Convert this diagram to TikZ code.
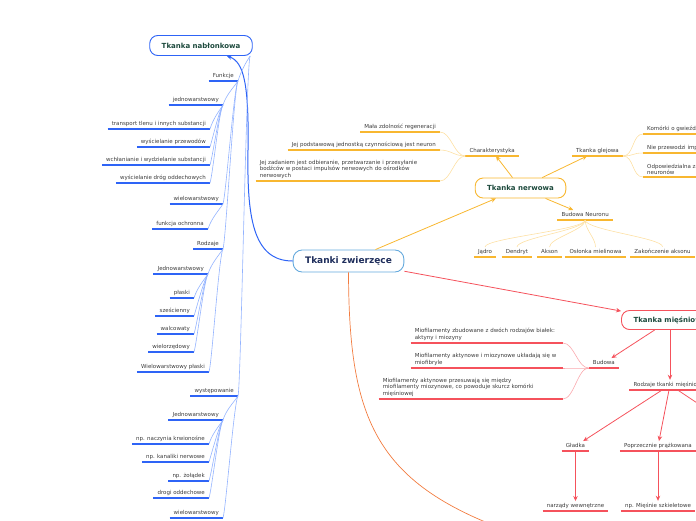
\documentclass[tikz,border=0pt]{standalone}
\usepackage{fontspec}
\setmainfont{DejaVu Sans}
\usetikzlibrary{arrows.meta}

\definecolor{niebD}{HTML}{2E64F6}
\definecolor{niebJ}{HTML}{93B3FF}
\definecolor{zoltD}{HTML}{F8B730}
\definecolor{zoltJ}{HTML}{FDE0A4}
\definecolor{czerD}{HTML}{F5525C}
\definecolor{czerJ}{HTML}{FAA8AD}
\definecolor{pomar}{HTML}{F27C40}
\definecolor{srodek}{HTML}{64A9DD}
\definecolor{tytul}{HTML}{1D4A3D}
\definecolor{granat}{HTML}{1F2E5C}
\definecolor{napis}{HTML}{3B3B3B}

\tikzset{
  temat/.style={font=\fontsize{5.5}{6.7}\selectfont, text=napis, inner xsep=4pt, inner ysep=2pt,
    anchor=south east,
    append after command={(\tikzlastnode.south west) edge[draw=#1, line width=1.6pt] (\tikzlastnode.south east)}},
  jedna/.style={temat=#1, text depth=1.4pt},
  glowny/.style={draw=#1, fill=white, line width=0.9pt, rounded corners=8pt,
    font=\fontsize{7}{8}\selectfont\bfseries, text=tytul, inner xsep=12pt, minimum height=20pt},
  strz/.style={draw=#1, line width=0.8pt, -{Stealth[length=5pt,width=4.5pt]}},
  pion/.style={draw=#1, line width=0.6pt, to path={.. controls +(-4,6) and +(3,-10) .. (\tikztotarget)}},
  lewo/.style={draw=#1, line width=0.6pt, to path={.. controls +(-11,0) and +(11,0) .. (\tikztotarget)}},
  prawo/.style={draw=#1, line width=0.6pt, to path={.. controls +(11,0) and +(-11,0) .. (\tikztotarget)}},
  wachlarz/.style={draw=#1, line width=0.6pt, to path={.. controls +(0,10) and +(0,-9) .. (\tikztotarget)}},
}

\begin{document}
\begin{tikzpicture}[x=1pt, y=-1pt]
\useasboundingbox (0,0) rectangle (696,520);

% srodek mapy
\node[draw=srodek, fill=white, line width=0.9pt, rounded corners=9pt, font=\fontsize{9}{10}\selectfont\bfseries,
  text=granat, inner xsep=12pt, minimum height=22pt] (zw) at (348.5,261) {Tkanki zwierzęce};

% tkanka nablonkowa
\node[glowny=niebD] (nabl) at (201,45.5) {Tkanka nabłonkowa};
\node[jedna=niebD] (funk) at (238,81) {Funkcje};
\node[jedna=niebD] (jedn1) at (223,105) {jednowarstwowy};
\node[jedna=niebD] (f1) at (210,129) {transport tlenu i innych substancji};
\node[jedna=niebD] (f2) at (210,147) {wyścielanie przewodów};
\node[jedna=niebD] (f3) at (210,165) {wchłanianie i wydzielanie substancji};
\node[jedna=niebD] (f4) at (210,183) {wyścielanie dróg oddechowych};
\node[jedna=niebD] (wiel1) at (223,204) {wielowarstwowy};
\node[jedna=niebD] (fochr) at (208,229) {funkcja ochronna};
\node[jedna=niebD] (rodz) at (223,249) {Rodzaje};
\node[jedna=niebD] (jedn2) at (208,274) {Jednowarstwowy};
\node[jedna=niebD] (plas) at (194,298) {płaski};
\node[jedna=niebD] (szes) at (194,316) {sześcienny};
\node[jedna=niebD] (walc) at (194,334) {walcowaty};
\node[jedna=niebD] (wrz) at (194,352) {wielorzędowy};
\node[jedna=niebD] (wpl) at (209,372) {Wielowarstwowy płaski};
\node[jedna=niebD] (wyst) at (238,396) {występowanie};
\node[jedna=niebD] (jedn3) at (223,420) {Jednowarstwowy};
\node[jedna=niebD] (w1) at (209,444) {np. naczynia krwionośne};
\node[jedna=niebD] (w2) at (209,462) {np. kanaliki nerwowe};
\node[jedna=niebD] (w3) at (209,481) {np. żołądek};
\node[jedna=niebD] (w4) at (209,498) {drogi oddechowe};
\node[jedna=niebD] (wiel3) at (223,518) {wielowarstwowy};

\draw[strz=niebD, line width=1pt] (zw.west) .. controls (252,261) and (247,215) .. (248,150)
  .. controls (249,85) and (244,62) .. (nabl.-22);
\draw[pion=niebJ] (nabl.-12) to (funk.south east);
\draw[pion=niebJ] (nabl.-12) to (wyst.south east);
\draw[pion=niebJ] (funk.south east) to (jedn1.south east);
\draw[pion=niebJ] (funk.south east) to (wiel1.south east);
\draw[pion=niebJ] (funk.south east) to (rodz.south east);
\draw[pion=niebJ] (jedn1.south east) to (f1.south east);
\draw[pion=niebJ] (jedn1.south east) to (f2.south east);
\draw[pion=niebJ] (jedn1.south east) to (f3.south east);
\draw[pion=niebJ] (jedn1.south east) to (f4.south east);
\draw[pion=niebJ] (wiel1.south east) to (fochr.south east);
\draw[pion=niebJ] (rodz.south east) to (jedn2.south east);
\draw[pion=niebJ] (rodz.south east) to (wpl.south east);
\draw[pion=niebJ] (jedn2.south east) to (plas.south east);
\draw[pion=niebJ] (jedn2.south east) to (szes.south east);
\draw[pion=niebJ] (jedn2.south east) to (walc.south east);
\draw[pion=niebJ] (jedn2.south east) to (wrz.south east);
\draw[pion=niebJ] (wyst.south east) to (jedn3.south east);
\draw[pion=niebJ] (wyst.south east) to (wiel3.south east);
\draw[pion=niebJ] (jedn3.south east) to (w1.south east);
\draw[pion=niebJ] (jedn3.south east) to (w2.south east);
\draw[pion=niebJ] (jedn3.south east) to (w3.south east);
\draw[pion=niebJ] (jedn3.south east) to (w4.south east);

% tkanka nerwowa
\node[glowny=zoltD] (nerw) at (520.5,188) {Tkanka nerwowa};
\node[jedna=zoltD] (cech) at (519,156) {Charakterystyka};
\node[jedna=zoltD] (n1) at (440,132) {Mała zdolność regeneracji};
\node[jedna=zoltD] (n2) at (440,150) {Jej podstawową jednostką czynnościową jest neuron};
\node[temat=zoltD, text width=176pt, align=left] (n3) at (440,181)
  {Jej zadaniem jest odbieranie, przetwarzanie i przesyłanie\\bodźców w postaci impulsów nerwowych do ośrodków\\nerwowych};
\node[jedna=zoltD] (glej) at (623,156) {Tkanka glejowa};
\node[jedna=zoltD, anchor=south west] (g1) at (643,134) {Komórki o gwieździstym kształcie};
\node[jedna=zoltD, anchor=south west] (g2) at (643,153) {Nie przewodzi impulsów nerwowych};
\node[temat=zoltD, anchor=south west, align=left] (g3) at (643,177) {Odpowiedzialna za odżywianie\\neuronów};
\node[jedna=zoltD] (budn) at (613,220) {Budowa Neuronu};
\node[jedna=zoltD, anchor=south] (jadro) at (485,257) {Jądro};
\node[jedna=zoltD, anchor=south] (dendr) at (517,257) {Dendryt};
\node[jedna=zoltD, anchor=south] (akson) at (549.5,257) {Akson};
\node[jedna=zoltD, anchor=south] (oslon) at (595.5,257) {Osłonka mielinowa};
\node[jedna=zoltD, anchor=south] (zakon) at (662.5,257) {Zakończenie aksonu};

\draw[strz=zoltD] (zw) -- (nerw);
\draw[strz=zoltD] (nerw) -- (cech);
\draw[strz=zoltD] (nerw) -- (glej);
\draw[strz=zoltD] (nerw) -- (budn);
\draw[lewo=zoltJ] (cech.south west) to (n1.south east);
\draw[lewo=zoltJ] (cech.south west) to (n2.south east);
\draw[lewo=zoltJ] (cech.south west) to (n3.south east);
\draw[prawo=zoltJ] (glej.south east) to (g1.south west);
\draw[prawo=zoltJ] (glej.south east) to (g2.south west);
\draw[prawo=zoltJ] (glej.south east) to (g3.south west);
\draw[wachlarz=zoltJ] (budn.south) to (jadro.north);
\draw[wachlarz=zoltJ] (budn.south) to (dendr.north);
\draw[wachlarz=zoltJ] (budn.south) to (akson.north);
\draw[wachlarz=zoltJ] (budn.south) to (oslon.north);
\draw[wachlarz=zoltJ] (budn.south) to (zakon.north);

% tkanka miesniowa
\node[glowny=czerD, minimum height=19pt] (miesn) at (670,320) {Tkanka mięśniowa};
\node[jedna=czerD] (bud) at (619,368) {Budowa};
\node[temat=czerD, text width=144pt, align=left] (m1) at (563,343)
  {Miofilamenty zbudowane z dwóch rodzajów białek:\\aktyny i miozyny};
\node[temat=czerD, text width=144pt, align=left] (m2) at (563,368)
  {Miofilamenty aktynowe i miozynowe układają się w\\miofibryle};
\node[temat=czerD, text width=176pt, align=left] (m3) at (563,399)
  {Miofilamenty aktynowe przesuwają się między\\miofilamenty miozynowe, co powoduje skurcz komórki\\mięśniowej};
\node[jedna=czerD, anchor=south] (rodzm) at (670,390) {Rodzaje tkanki mięśniowej};
\node[jedna=czerD, anchor=south] (glad) at (575.5,451) {Gładka};
\node[jedna=czerD, anchor=south] (popr) at (658,451) {Poprzecznie prążkowana};
\node[jedna=czerD, anchor=south] (narz) at (575.5,511) {narządy wewnętrzne};
\node[jedna=czerD, anchor=south] (szkiel) at (658,511) {np. Mięśnie szkieletowe};
\coordinate (mdalej) at (760,352);
\coordinate (sercowa) at (760,445);

\draw[strz=czerD] (zw) -- (miesn);
\draw[strz=czerD] (miesn) -- (bud);
\draw[strz=czerD] (miesn) -- (rodzm);
\draw[strz=czerD] (miesn) -- (mdalej);
\draw[strz=czerD] (rodzm) -- (glad);
\draw[strz=czerD] (rodzm) -- (popr);
\draw[strz=czerD] (rodzm) -- (sercowa);
\draw[strz=czerD] (glad) -- (narz);
\draw[strz=czerD] (popr) -- (szkiel);
\draw[lewo=czerJ] (bud.south west) to (m1.south east);
\draw[lewo=czerJ] (bud.south west) to (m2.south east);
\draw[lewo=czerJ] (bud.south west) to (m3.south east);

% galaz w dol
\coordinate (dalej) at (520,535);
\draw[strz=pomar, line width=0.7pt] (zw.south) .. controls (349,420) and (375,485) .. (dalej);
\end{tikzpicture}
\end{document}
